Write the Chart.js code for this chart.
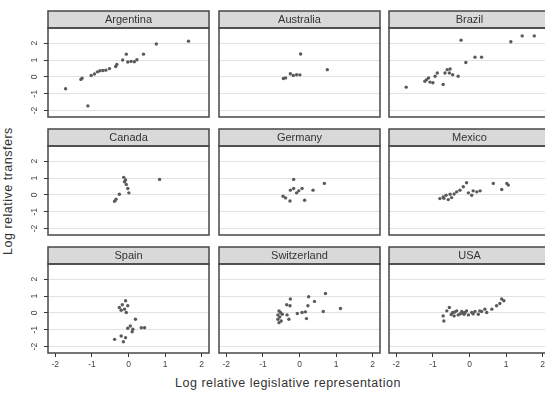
<!DOCTYPE html>
<html><head><meta charset="utf-8">
<script src="https://cdn.jsdelivr.net/npm/chart.js@4/dist/chart.umd.min.js"></script>
<style>
html,body{margin:0;padding:0;background:#fff}
body{width:545px;height:394px;overflow:hidden;position:relative;font-family:"Liberation Sans",Arial,sans-serif}
.box{position:absolute}
.ttl{position:absolute;color:#333;font-size:12.5px;letter-spacing:0.5px;white-space:nowrap}
</style></head><body>
<div class="ttl" id="ytitle">Log relative transfers</div>
<div class="ttl" id="xtitle">Log relative legislative representation</div>
<script>
const countries = ["Argentina","Australia","Brazil","Canada","Germany","Mexico","Spain","Switzerland","USA"];
const xTicks = [-2,-1,0,1,2];
const yTicks = [-2,-1,0,1,2];

const argentinaX = [-1.72,-1.30,-1.27,-1.11,-1.02,-0.93,-0.85,-0.78,-0.70,-0.62,-0.52,-0.35,-0.32,-0.16,-0.06,-0.02,0.07,0.16,0.23,0.41,0.76,1.64];
const argentinaY = [-0.70,-0.15,-0.08,-1.72,0.08,0.17,0.30,0.36,0.38,0.40,0.49,0.62,0.74,1.00,1.35,0.88,0.92,0.90,1.02,1.35,1.95,2.12];
const australiaX = [-0.44,-0.38,-0.25,-0.17,-0.08,0.01,0.03,0.76];
const australiaY = [-0.10,-0.06,0.19,0.08,0.13,0.12,1.36,0.43];
const brazilX = [-1.73,-1.22,-1.17,-1.12,-1.08,-1.00,-0.94,-0.88,-0.72,-0.67,-0.61,-0.53,-0.55,-0.46,-0.31,-0.23,-0.10,0.15,0.33,1.13,1.44,1.77];
const brazilY = [-0.61,-0.26,-0.16,-0.06,-0.31,-0.35,0.04,0.23,-0.45,0.23,0.43,0.47,0.23,0.13,0.04,2.18,0.85,1.17,1.17,2.08,2.43,2.43];
const canadaX = [-0.38,-0.34,-0.25,-0.13,-0.11,-0.06,-0.02,0.01,-0.08,0.85];
const canadaY = [-0.38,-0.26,0.04,1.04,0.78,0.62,0.38,0.12,0.88,0.92];
const germanyX = [-0.16,-0.45,-0.38,-0.26,-0.25,-0.16,-0.08,-0.02,0.07,0.14,0.37,0.68];
const germanyY = [0.92,-0.08,-0.18,-0.36,0.28,0.38,0.12,0.24,0.38,-0.32,0.28,0.68];
const mexicoX = [-0.81,-0.72,-0.64,-0.58,-0.53,-0.49,-0.35,-0.26,-0.17,-0.08,-0.03,0.06,0.10,0.20,0.29,0.65,0.88,1.02,1.06,-0.70,-0.42];
const mexicoY = [-0.22,-0.12,-0.02,-0.28,0.04,-0.16,0.18,0.28,0.48,0.72,0.12,-0.02,0.24,0.18,0.24,0.68,0.32,0.68,0.58,-0.20,0.05];
const spainX = [-0.08,-0.17,-0.25,-0.20,-0.11,-0.06,-0.02,0.19,-0.02,0.05,0.12,0.10,0.35,0.44,-0.38,-0.20,-0.08,-0.14];
const spainY = [0.72,0.48,0.32,0.16,0.22,0.02,0.42,-0.38,-0.91,-0.78,-0.97,-1.12,-0.88,-0.88,-1.57,-1.37,-1.47,-1.71];
const switzerlandX = [0.71,0.25,0.41,-0.25,-0.35,-0.26,0.23,-0.56,-0.52,-0.59,-0.47,-0.54,-0.59,-0.50,-0.56,-0.34,-0.29,-0.06,0.07,0.16,0.19,0.65,1.12];
const switzerlandY = [1.15,0.96,0.68,0.82,0.48,0.42,0.42,0.12,0.02,-0.12,-0.08,-0.24,-0.38,-0.48,-0.58,-0.12,-0.38,-0.04,0.02,0.06,-0.34,0.08,0.26];
const usaX = [-0.70,-0.72,-0.62,-0.55,-0.46,-0.42,-0.35,-0.31,-0.21,-0.15,-0.08,-0.03,0.06,0.15,0.24,0.33,0.42,0.47,0.61,0.74,0.83,0.88,0.94,-0.40,-0.25,-0.12,0.10,0.28,-0.50,-0.18];
const usaY = [-0.48,-0.18,0.12,0.32,0.02,-0.18,0.12,-0.12,0.08,-0.08,0.12,-0.12,0.02,0.08,-0.08,0.08,0.22,0.02,0.22,0.42,0.56,0.82,0.72,0.05,-0.05,0.02,-0.06,0.12,-0.10,0.00];

const seriesX = [argentinaX,australiaX,brazilX,canadaX,germanyX,mexicoX,spainX,switzerlandX,usaX];
const seriesY = [argentinaY,australiaY,brazilY,canadaY,germanyY,mexicoY,spainY,switzerlandY,usaY];

// layout
const colLeft = [48, 219, 389];
const rowTop = [28, 146, 264];
const plotW = 161, plotH = 89, headH = 17;
const yAxisW = 30, xAxisH = 22;
const FONT = '"Liberation Sans", Arial, sans-serif';

const yt = document.getElementById('ytitle');
yt.style.left = (8 - 70) + 'px'; yt.style.top = (192 - 8) + 'px';
yt.style.width = '140px'; yt.style.textAlign = 'center'; yt.style.transform = 'rotate(-90deg)';
const xt = document.getElementById('xtitle');
xt.style.left = '0px'; xt.style.width = '576px'; xt.style.textAlign = 'center'; xt.style.top = '376px';

const panelPlugin = {
  id: 'panel',
  beforeDraw(chart) {
    const {ctx, chartArea: a} = chart;
    ctx.save();
    ctx.fillStyle = '#d9d9d9';
    ctx.fillRect(a.left, a.top - headH, a.right - a.left, headH);
    ctx.restore();
  },
  afterDraw(chart) {
    const {ctx, chartArea: a} = chart;
    ctx.save();
    ctx.strokeStyle = '#474747';
    ctx.lineWidth = 1.5;
    ctx.strokeRect(a.left, a.top - headH, a.right - a.left, headH);
    ctx.strokeRect(a.left, a.top, a.right - a.left, a.bottom - a.top);
    // vertical (rotated) y tick labels, Stata style
    if (chart.options.plugins.panel && chart.options.plugins.panel.yLabels) {
      const ys = chart.scales.y;
      ctx.fillStyle = '#444';
      ctx.font = '8.5px ' + FONT;
      ctx.textAlign = 'center';
      ctx.textBaseline = 'middle';
      yTicks.forEach(v => {
        const py = ys.getPixelForValue(v);
        ctx.save();
        ctx.translate(a.left - 13, py);
        ctx.rotate(-Math.PI / 2);
        ctx.fillText(String(v), 0, 0);
        ctx.restore();
      });
    }
    ctx.restore();
  }
};

countries.forEach((name, i) => {
  const col = i % 3, row = Math.floor(i / 3);
  const leftCol = col === 0, bottomRow = row === 2;
  const padL = leftCol ? yAxisW : 2, padR = 2, padT = headH + 2, padB = bottomRow ? xAxisH : 2;
  const div = document.createElement('div');
  div.className = 'box';
  const cw = plotW + padL + padR, ch = plotH + padT + padB;
  div.style.left = (colLeft[col] - padL) + 'px';
  div.style.top = (rowTop[row] - padT) + 'px';
  div.style.width = cw + 'px'; div.style.height = ch + 'px';
  const cv = document.createElement('canvas');
  div.appendChild(cv);
  document.body.appendChild(div);
  const pts = seriesX[i].map((x, k) => ({x, y: seriesY[i][k]}));
  new Chart(cv, {
    type: 'scatter',
    data: {datasets: [{label: name, data: pts, pointRadius: 1.7, pointHoverRadius: 1.7, backgroundColor: '#5a5a5a', borderColor: '#5a5a5a', borderWidth: 0}]},
    options: {
      responsive: true, maintainAspectRatio: false, animation: false, devicePixelRatio: 1,
      layout: {padding: {left: leftCol ? 0 : 2, right: 2, top: 2, bottom: bottomRow ? 0 : 2}},
      plugins: {
        panel: {yLabels: leftCol},
        legend: {display: false}, tooltip: {enabled: false},
        title: {display: true, text: name, fullSize: false, color: '#333',
          font: {family: FONT, size: 11, weight: 'normal', lineHeight: 1.0},
          padding: {top: 3, bottom: 3}}
      },
      scales: {
        x: {type: 'linear', min: -2.2, max: 2.2,
          afterBuildTicks: s => { s.ticks = xTicks.map(v => ({value: v})); },
          afterFit: s => { s.height = bottomRow ? xAxisH : 0; },
          border: {display: false},
          grid: {drawOnChartArea: false, drawTicks: bottomRow, tickLength: 4, tickColor: '#333', lineWidth: 1},
          ticks: {display: bottomRow, color: '#444', padding: 3, maxRotation: 0, minRotation: 0,
            font: {family: FONT, size: 8.5}}
        },
        y: {type: 'linear', min: -2.38, max: 2.9,
          afterBuildTicks: s => { s.ticks = yTicks.map(v => ({value: v})); },
          afterFit: s => { s.width = leftCol ? yAxisW : 0; },
          border: {display: false},
          grid: {color: '#e2e2e2', lineWidth: 1, drawTicks: leftCol, tickLength: 4, tickColor: '#333'},
          ticks: {display: false}
        }
      }
    },
    plugins: [panelPlugin]
  });
});
</script>
</body></html>
